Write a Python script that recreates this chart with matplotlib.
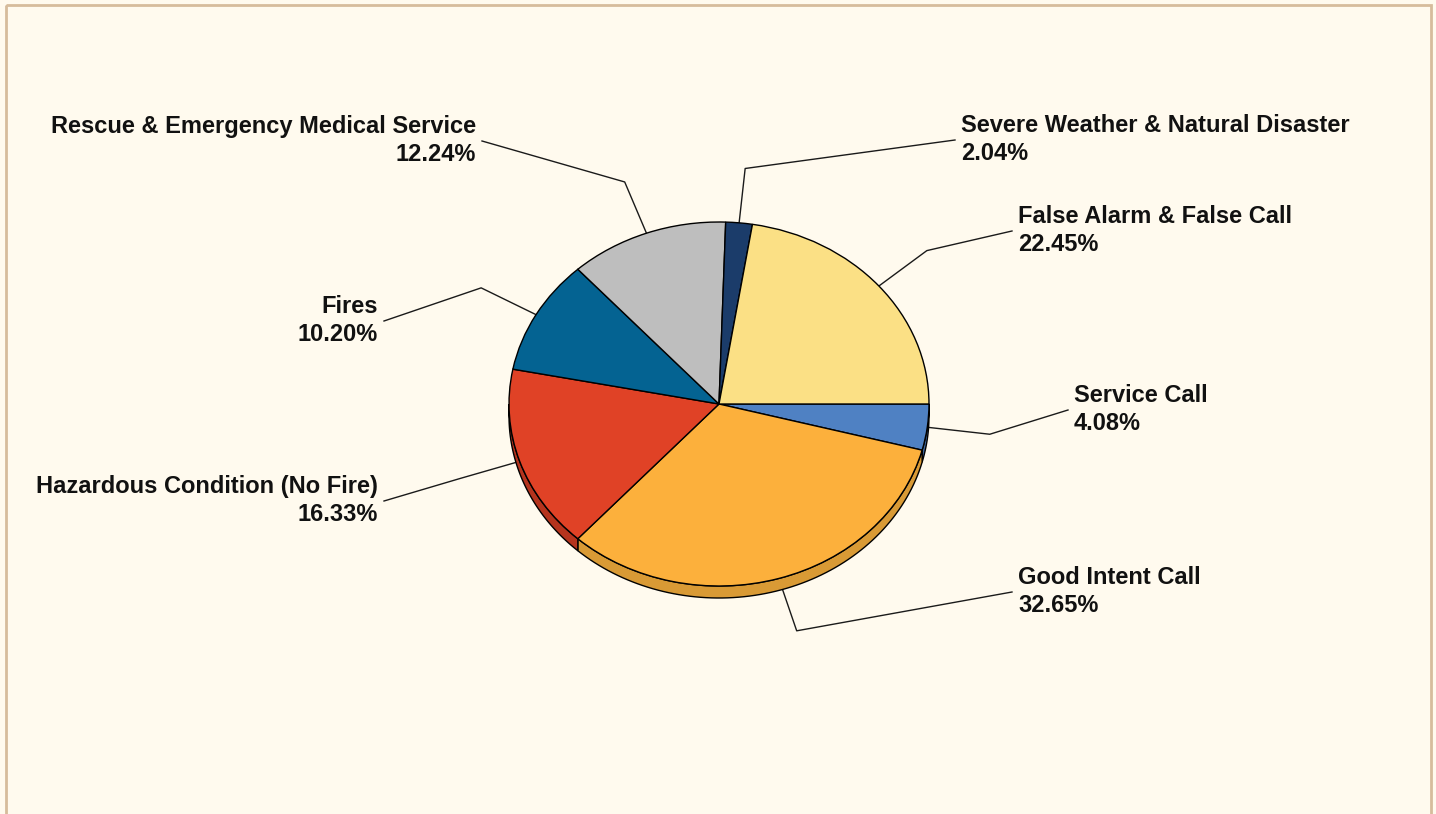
import numpy as np
import matplotlib
matplotlib.use("Agg")
import matplotlib.pyplot as plt
from matplotlib.patches import Polygon, Rectangle

# ---------------- data ----------------
categories = ["Service Call", "Good Intent Call", "Hazardous Condition (No Fire)", "Fires",
              "Rescue & Emergency Medical Service", "Severe Weather & Natural Disaster",
              "False Alarm & False Call"]
percentages = [4.08, 32.65, 16.33, 10.20, 12.24, 2.04, 22.45]
top_colors = ["#4F81C3", "#FCB03C", "#E04226", "#046392", "#BEBEBE", "#1B3C6A", "#FBE085"]
side_colors = ["#3D659A", "#D99A35", "#B5341E", "#034B6E", "#999999", "#142D50", "#D6BF6E"]

# label layout (pixel coords, screen y downward): leader end point and side (+1 right, -1 left)
label_end_x = [1068, 1012, 384, 384, 482, 955, 1012]
label_end_y = [410, 592, 501, 321, 141, 140, 231]
label_side = [1, 1, -1, -1, -1, 1, 1]

# ---------------- layout ----------------
W, H, DPI = 1436, 814, 100
BG = "#FFFAEE"
CX, CY = 719, 404
RX, RY = 210, 182
DEPTH = 12
ELBOW = 1.3
EXT = 1.2

fig = plt.figure(figsize=(W / DPI, H / DPI), dpi=DPI)
fig.patch.set_facecolor(BG)

ov = fig.add_axes([0, 0, 1, 1])
ov.set_xlim(0, W)
ov.set_ylim(H, 0)
ov.axis("off")
ov.patch.set_alpha(0)

pax = fig.add_axes([(CX - EXT * RX) / W, (H - CY - EXT * RY) / H,
                    2 * EXT * RX / W, 2 * EXT * RY / H])
wedges, _ = pax.pie(percentages, colors=top_colors, startangle=0, counterclock=False,
                    radius=1, wedgeprops=dict(edgecolor="black", linewidth=1.0))
for w in wedges:
    w.set_zorder(3)
pax.set_aspect("auto")
pax.set_xlim(-EXT, EXT)
pax.set_ylim(-EXT, EXT)
pax.axis("off")
pax.patch.set_alpha(0)

total = sum(percentages)
cum = np.concatenate([[0], np.cumsum(percentages)]) / total * 360.0
dd = DEPTH / RY

# side walls (front half)
for i in range(len(percentages)):
    t1 = -cum[i]
    t2 = -cum[i + 1]
    b = min(t1, 0)
    a = max(t2, -180)
    if a < b:
        t = np.radians(np.linspace(b, a, 80))
        top = np.column_stack([np.cos(t), np.sin(t)])
        bot = np.column_stack([np.cos(t[::-1]), np.sin(t[::-1]) - dd])
        pax.add_patch(Polygon(np.vstack([top, bot]), closed=True, facecolor=side_colors[i],
                              edgecolor="black", linewidth=1.0, zorder=2))

# leader lines and labels
for i, (name, pct) in enumerate(zip(categories, percentages)):
    mid = np.radians(-(cum[i] + cum[i + 1]) / 2)
    sx, sy = CX + RX * np.cos(mid), CY - RY * np.sin(mid)
    ex, ey = CX + ELBOW * RX * np.cos(mid), CY - ELBOW * RY * np.sin(mid)
    lx, ly = label_end_x[i], label_end_y[i]
    ov.plot([sx, ex, lx], [sy, ey, ly], color="#1a1a1a", lw=1.0, zorder=5)
    side = label_side[i]
    ov.text(lx + 6 * side, ly - 0.5, f"{name}\n{pct:.2f}%",
            ha="left" if side > 0 else "right", va="center",
            multialignment="left" if side > 0 else "right",
            fontsize=17, fontweight="bold", family=["Liberation Sans", "DejaVu Sans"],
            linespacing=1.25, color="#111111", zorder=6)

# frame border
ov.add_patch(Rectangle((5.5, 5.0), 1425.5, 900, fill=False, edgecolor="#D6BC9C",
                       linewidth=2.0, zorder=1, clip_on=True))

fig.savefig("out.png", dpi=DPI, facecolor=BG)
